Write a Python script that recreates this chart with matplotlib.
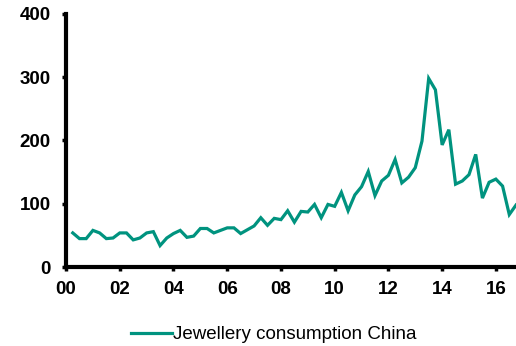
import numpy as np
import matplotlib.pyplot as plt

# quarterly jewellery consumption, 2000Q1 .. 2016Q3
years = np.arange(2000.25, 2016.76, 0.25)
consumption = [54, 45, 45, 58, 54, 45, 46, 54, 54, 43, 46, 54, 56, 34, 46, 53,
               58, 47, 49, 61, 61, 54, 58, 62, 62, 53, 59, 65, 78, 66, 77, 75,
               89, 71, 88, 87, 99, 78, 99, 96, 118, 89, 114, 127, 151, 113, 136, 145,
               170, 133, 142, 157, 199, 298, 280, 193, 217, 131, 136, 146, 178, 109, 134, 139,
               128, 83, 98]
xticks = np.arange(2000, 2017, 2)
xticklabels = ['%02d' % (y % 100) for y in xticks]
yticks = [0, 100, 200, 300, 400]

plt.rcParams['font.family'] = ['Liberation Sans', 'DejaVu Sans']

fig = plt.figure(figsize=(5.16, 3.46), dpi=100)
ax = fig.add_axes([0.128, 0.228, 0.872, 0.732])

line, = ax.plot(years, consumption, color='#00937f', lw=2.3,
                solid_joinstyle='miter', label='Jewellery consumption China')

ax.set_xlim(2000, 2016.75)
ax.set_ylim(0, 400)
ax.set_xticks(xticks)
ax.set_xticklabels(xticklabels)
ax.set_yticks(yticks)

for s in ['top', 'right']:
	ax.spines[s].set_visible(False)
for s in ['left', 'bottom']:
	ax.spines[s].set_linewidth(3)
ax.tick_params(axis='both', direction='out', length=3, width=2.5, labelsize=13.5)
ax.tick_params(axis='y', pad=8)
ax.tick_params(axis='x', pad=7)
for lab in ax.get_xticklabels() + ax.get_yticklabels():
	lab.set_fontweight('bold')

fig.legend(handles=[line], loc='center', bbox_to_anchor=(0.53, 0.033),
           frameon=False, fontsize=13.5, handlelength=2.2, handletextpad=0.05)

fig.savefig('out.png', dpi=100)
